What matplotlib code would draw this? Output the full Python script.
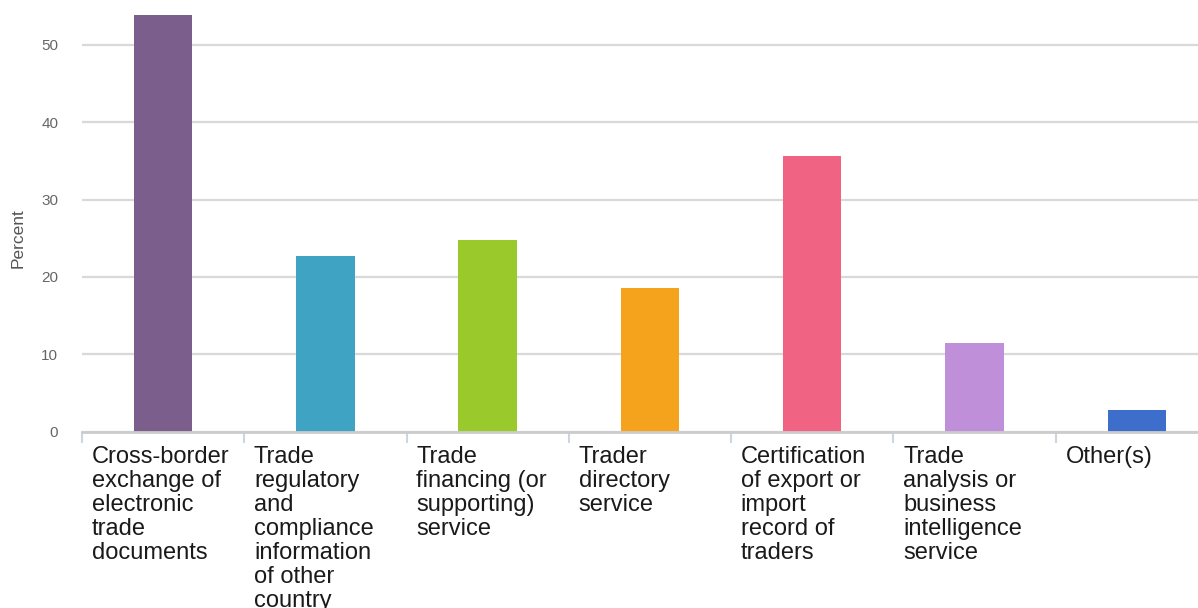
import matplotlib.pyplot as plt
import numpy as np

# Survey answers, percent of respondents
categories = [
    "Cross-border\nexchange of\nelectronic\ntrade\ndocuments",
    "Trade\nregulatory\nand\ncompliance\ninformation\nof other\ncountry",
    "Trade\nfinancing (or\nsupporting)\nservice",
    "Trader\ndirectory\nservice",
    "Certification\nof export or\nimport\nrecord of\ntraders",
    "Trade\nanalysis or\nbusiness\nintelligence\nservice",
    "Other(s)",
]
percent = [54.0, 22.7, 24.8, 18.6, 35.7, 11.5, 2.8]
colors = ["#7B5E8C", "#3FA3C4", "#99C92A", "#F5A31C", "#F06383", "#BF8FD9", "#3E6ECB"]
yticks = [0, 10, 20, 30, 40, 50]

plt.rcParams['font.family'] = ['Liberation Sans', 'DejaVu Sans']

fig = plt.figure(figsize=(11.98, 6.08), dpi=100)
ax = fig.add_axes([0.0684, 0.29, 0.9483, 0.6857])

x = np.arange(len(categories))
ax.bar(x, percent, width=0.36, color=colors, zorder=3)

ax.set_xlim(-0.5, len(categories) - 0.5)
ax.set_ylim(0, 53.9)

# grid and axes
ax.set_yticks(yticks)
ax.yaxis.grid(True, color="#D9D9D9", linewidth=1.6, zorder=0)
ax.tick_params(axis="y", length=0, pad=17, labelsize=11, labelcolor="#666666")
for s in ["top", "right", "left"]:
    ax.spines[s].set_visible(False)
ax.spines["bottom"].set_color("#CCCCCC")
ax.spines["bottom"].set_linewidth(2)
ax.spines["bottom"].set_zorder(4)

# category boundaries as minor ticks, labels left-aligned after each boundary
ax.set_xticks(np.arange(len(categories) + 1) - 0.5, minor=True)
ax.tick_params(axis="x", which="minor", length=8, width=1.5, color="#CDD5E0")
ax.set_xticks(x - 0.44)
ax.set_xticklabels(categories, ha="left", va="top", fontsize=17, color="#1a1a1a", linespacing=1.12)
ax.tick_params(axis="x", which="major", length=0, pad=10)

ax.set_ylabel("Percent", fontsize=12.5, color="#555555")
ax.yaxis.set_label_coords(-0.050, 0.465)

plt.savefig("out.png", dpi=100)
